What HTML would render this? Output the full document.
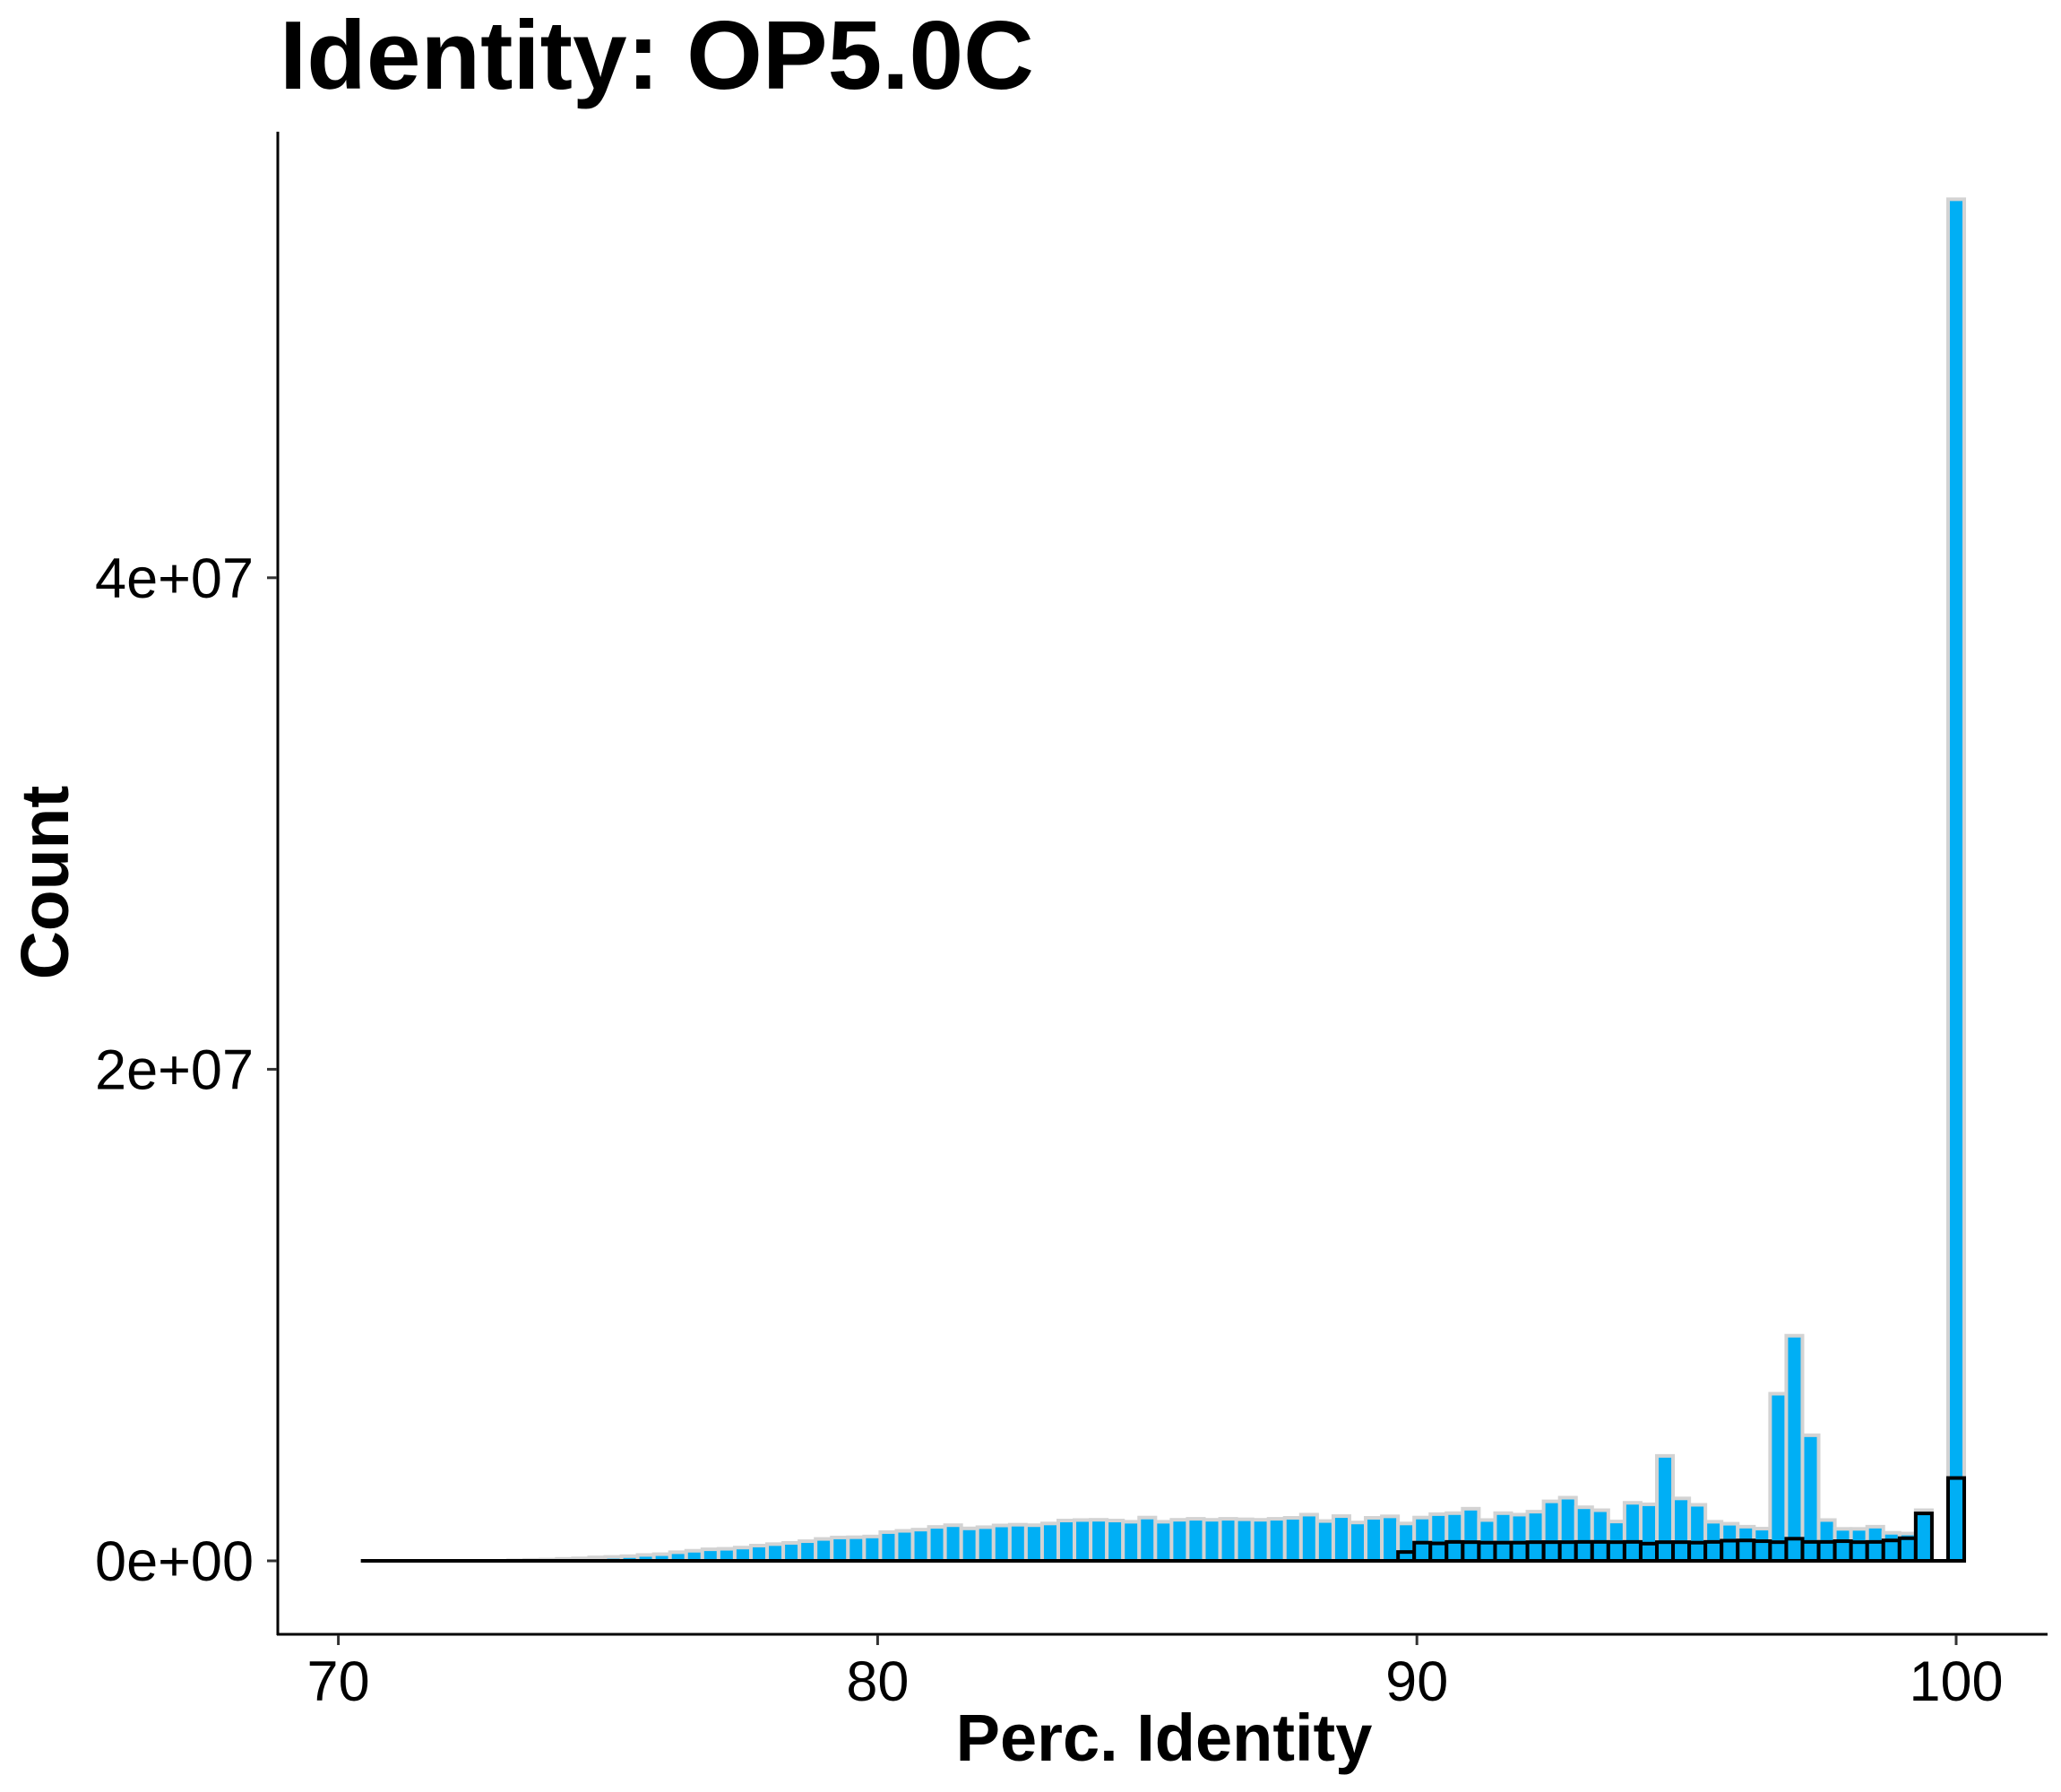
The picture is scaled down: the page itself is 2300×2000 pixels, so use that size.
<!DOCTYPE html>
<html><head><meta charset="utf-8"><style>
html,body{margin:0;padding:0;background:#fff;}
svg{display:block;font-family:"Liberation Sans",Arial,sans-serif;}
</style></head><body>
<svg id="chart" width="2300" height="2000" viewBox="0 0 2300 2000" xmlns="http://www.w3.org/2000/svg">
<rect width="2300" height="2000" fill="#fff"/>
<text x="312" y="99" font-size="109" font-weight="bold">Identity: OP5.0C</text>
<g id="bars-all"></g>
<g id="bars-sub"></g>
<g id="axes"></g>
<text x="1299" y="1965" font-size="74" font-weight="bold" text-anchor="middle">Perc. Identity</text>
<text transform="translate(76,985) rotate(-90)" font-size="75" font-weight="bold" text-anchor="middle">Count</text>
</svg>
<script>
const binStart = 70.6;
const binWidth = 0.3;
const allCounts = [0.002,0.003,0.004,0.005,0.006,0.008,0.01,0.012,0.015,0.02,0.04,0.05,0.08,0.10,0.14,0.16,0.19,0.24,0.27,0.35,0.41,0.47,0.49,0.54,0.62,0.68,0.73,0.80,0.89,0.95,0.96,0.99,1.17,1.22,1.27,1.38,1.45,1.32,1.37,1.44,1.47,1.45,1.52,1.64,1.66,1.67,1.64,1.59,1.76,1.59,1.67,1.71,1.67,1.71,1.69,1.67,1.71,1.75,1.88,1.62,1.82,1.56,1.75,1.81,1.52,1.76,1.90,1.94,2.12,1.66,1.94,1.88,2.00,2.42,2.57,2.18,2.06,1.60,2.36,2.30,4.27,2.54,2.28,1.59,1.51,1.39,1.31,6.80,9.16,5.11,1.66,1.30,1.30,1.39,1.14,1.11,2.06,0,55.4];
const subCounts = [0,0,0,0,0,0,0,0,0,0,0,0,0,0,0,0,0,0,0,0,0,0,0,0,0,0,0,0,0,0,0,0,0,0,0,0,0,0,0,0,0,0,0,0,0,0,0,0,0,0,0,0,0,0,0,0,0,0,0,0,0,0,0,0,0.36,0.74,0.71,0.77,0.76,0.74,0.74,0.74,0.76,0.76,0.76,0.77,0.77,0.76,0.77,0.70,0.76,0.76,0.74,0.77,0.82,0.83,0.80,0.76,0.90,0.77,0.77,0.80,0.76,0.77,0.83,0.92,1.93,0,3.37];
const xTicks = [70,80,90,100];
const xTickLabels = ["70","80","90","100"];
const yTicks = [0,20,40];
const yTickLabels = ["0e+00","2e+07","4e+07"];

const NS="http://www.w3.org/2000/svg";
function xs(v){return 377.6+(v-70)*60.18;}
function ys(m){return 1742-m*27.43;}
function mk(tag,attrs,parent){const e=document.createElementNS(NS,tag);for(const k in attrs)e.setAttribute(k,attrs[k]);parent.appendChild(e);return e;}

function drawSeries(arr,gid,stroke,nm){
  const g=document.getElementById(gid);
  arr.forEach((v,i)=>{
    const c=binStart+i*binWidth;
    const x0=xs(c-binWidth/2),x1=xs(c+binWidth/2);
    const y=ys(v),h=ys(0)-y;
    let r;
    if(h<0.5){
      r=mk('line',{x1:x0-2,y1:ys(0),x2:x1+2,y2:ys(0),stroke:stroke,'stroke-width':4},g);
    } else {
      r=mk('rect',{x:x0,y:y,width:x1-x0,height:h,fill:'#00AFF5',stroke:stroke,'stroke-width':4},g);
    }
    
    
  });
}
drawSeries(allCounts,'bars-all','#d3d3d3','all-hits');
drawSeries(subCounts,'bars-sub','#000000','subset');

const ax=document.getElementById('axes');
const ya=mk('line',{x1:310,y1:147,x2:310,y2:1825,stroke:'#000','stroke-width':3},ax);


const xa=mk('line',{x1:309,y1:1824,x2:2285,y2:1824,stroke:'#000','stroke-width':3},ax);


xTicks.forEach((t,i)=>{
  const x=xs(t);
  const l=mk('line',{x1:x,y1:1825,x2:x,y2:1836,stroke:'#333','stroke-width':3},ax);
  
  
  const tx=mk('text',{x:x,y:1898,'font-size':63,'text-anchor':'middle',fill:'#000'},ax);
  tx.textContent=xTickLabels[i];
  
  
});
yTicks.forEach((t,i)=>{
  const y=ys(t);
  const l=mk('line',{x1:298,y1:y,x2:309,y2:y,stroke:'#333','stroke-width':3},ax);
  
  
  const tx=mk('text',{x:283,y:y+22,'font-size':63,'text-anchor':'end',fill:'#000'},ax);
  tx.textContent=yTickLabels[i];
  
  
});
</script>
</body></html>
